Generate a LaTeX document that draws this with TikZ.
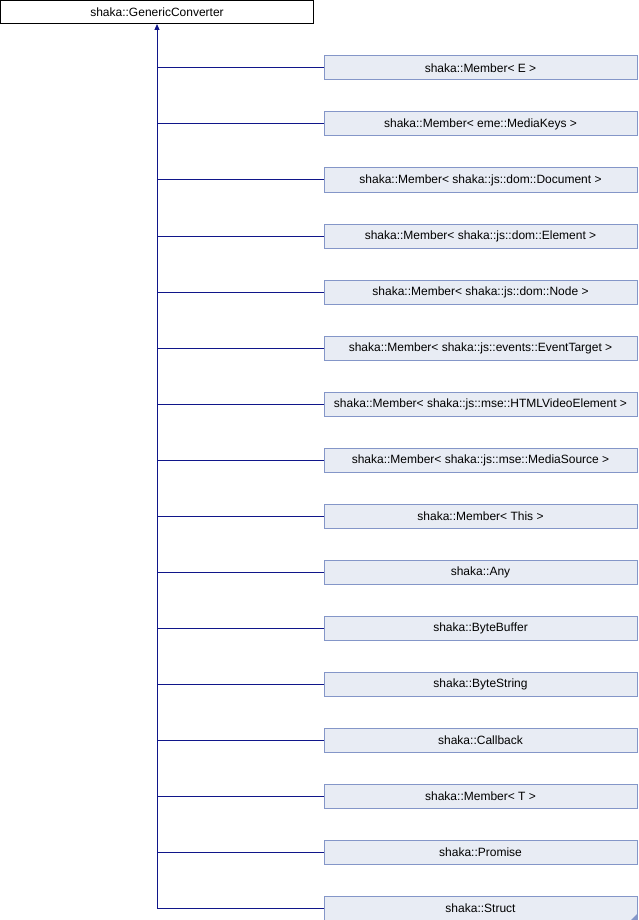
\documentclass[tikz,border=0pt]{standalone}
\usepackage{fontspec}
\setmainfont{Liberation Sans}
\usetikzlibrary{arrows.meta,calc}
\definecolor{boxfill}{RGB}{232,236,244}
\definecolor{boxline}{RGB}{132,150,200}
\definecolor{edge}{RGB}{16,22,138}
\tikzset{
  basebox/.style={minimum width=313pt,minimum height=24pt,inner sep=0pt,line width=1pt,
    font=\fontsize{12}{14}\selectfont},
  rootbox/.style={basebox,draw=black,fill=white,minimum height=23pt},
  childbox/.style={basebox,draw=boxline,fill=boxfill},
  link/.style={draw=edge,line width=1pt},
}
\begin{document}
\begin{tikzpicture}[x=1pt,y=-1pt]
\useasboundingbox (0,0) rectangle (638,920);
\node[rootbox] (g) at (157,12) {shaka::GenericConverter};
\coordinate (tb) at (157,908);
\foreach \i/\t in {1/{shaka::Member< E >},
  2/{shaka::Member< eme::MediaKeys >},
  3/{shaka::Member< shaka::js::dom::Document >},
  4/{shaka::Member< shaka::js::dom::Element >},
  5/{shaka::Member< shaka::js::dom::Node >},
  6/{shaka::Member< shaka::js::events::EventTarget >},
  7/{shaka::Member< shaka::js::mse::HTMLVideoElement >},
  8/{shaka::Member< shaka::js::mse::MediaSource >},
  9/{shaka::Member< This >},
  10/{shaka::Any},
  11/{shaka::ByteBuffer},
  12/{shaka::ByteString},
  13/{shaka::Callback},
  14/{shaka::Member< T >},
  15/{shaka::Promise},
  16/{shaka::Struct}} {
  \node[childbox] (c\i) at (480.5,{68+(\i-1)*56}) {\t};
  \draw[link] (c\i.west) -- (c\i.west -| g.south);
}
\draw[link,-{Triangle[width=5pt,length=6pt]}] (tb) -- (g.south);
\fill[boxline] ($(c16.south east)+(-0.5,-0.5)$) -- ++(0,-6) -- ++(-6,6) -- cycle;
\end{tikzpicture}
\end{document}
